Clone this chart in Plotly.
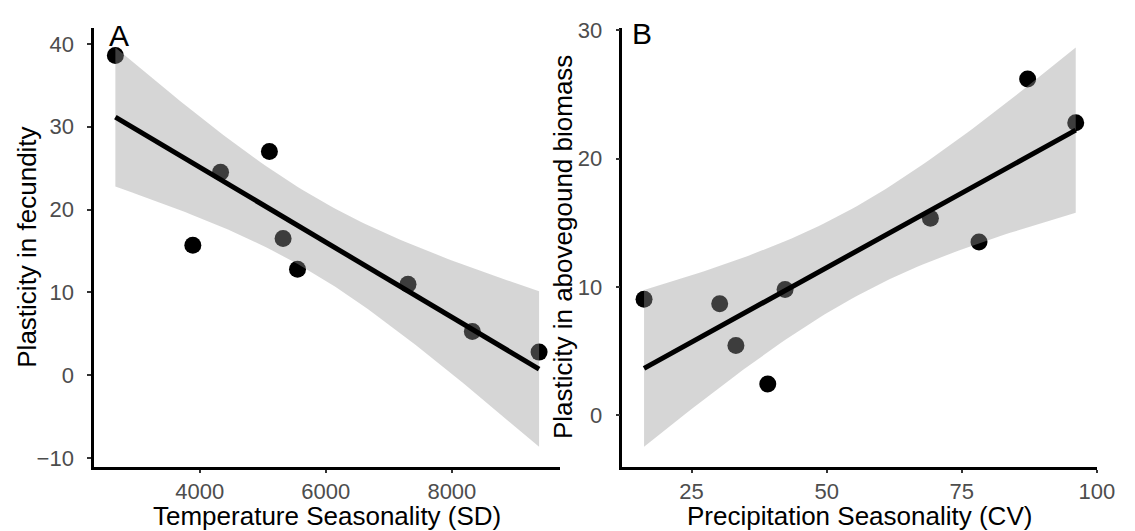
import numpy as np
import plotly.graph_objects as go

# ---------------- data ----------------
temp_sd = [2661, 3890, 4330, 5105, 5322, 5551, 7304, 8325, 9384]
fecundity = [38.6, 15.7, 24.5, 27.0, 16.5, 12.8, 11.0, 5.3, 2.8]

prec_cv = [16.2, 30.2, 33.2, 39.1, 42.3, 69.2, 78.2, 87.2, 96.1]
biomass = [9.05, 8.7, 5.45, 2.45, 9.8, 15.35, 13.5, 26.2, 22.8]

x_ticks_a = [4000, 6000, 8000]
y_ticks_a = [-10, 0, 10, 20, 30, 40]
x_ticks_b = [25, 50, 75, 100]
y_ticks_b = [0, 10, 20, 30]

T975_DF7 = 2.364624  # Student t quantile for a 95% CI with n-2 = 7 df


def lm_fit(x, y, n_grid=80):
    x = np.asarray(x, float)
    y = np.asarray(y, float)
    n = len(x)
    xb, yb = x.mean(), y.mean()
    sxx = ((x - xb) ** 2).sum()
    slope = ((x - xb) * (y - yb)).sum() / sxx
    icpt = yb - slope * xb
    resid = y - (icpt + slope * x)
    s = np.sqrt((resid ** 2).sum() / (n - 2))
    g = np.linspace(x.min(), x.max(), n_grid)
    fit = icpt + slope * g
    se = s * np.sqrt(1.0 / n + (g - xb) ** 2 / sxx)
    return g, fit, fit - T975_DF7 * se, fit + T975_DF7 * se


def expand(lo, hi, f=0.05):
    d = (hi - lo) * f
    return [lo - d, hi + d]


W, H = 1135, 531
px = lambda v: v / W
py = lambda v: (H - v) / H

AX_BOTTOM, AX_TOP = 469.3, 19.0
A_LEFT, A_RIGHT = 95.7, 569.3
B_LEFT, B_RIGHT = 632.5, 1115.0

dom_y = [py(AX_BOTTOM), py(AX_TOP)]
dom_xa = [px(A_LEFT), px(A_RIGHT)]
dom_xb = [px(B_LEFT), px(B_RIGHT)]

FONT = "Liberation Sans, Arial, Helvetica, sans-serif"
TICK_FONT = dict(family=FONT, size=22, color="#4d4d4d")

fig = go.Figure()

panels = [
    (temp_sd, fecundity, "x", "y"),
    (prec_cv, biomass, "x2", "y2"),
]
ranges = []
for xs, ys, xa, ya in panels:
    g, fit, lo, hi = lm_fit(xs, ys)
    # points first; the translucent ribbon is laid over them as in ggplot
    fig.add_trace(go.Scatter(x=xs, y=ys, mode="markers", xaxis=xa, yaxis=ya,
                             marker=dict(color="black", size=17, line=dict(width=0)),
                             showlegend=False, hoverinfo="skip"))
    fig.add_trace(go.Scatter(x=np.concatenate([g, g[::-1]]),
                             y=np.concatenate([hi, lo[::-1]]),
                             mode="lines", fill="toself",
                             fillcolor="rgba(153,153,153,0.4)",
                             line=dict(width=0), xaxis=xa, yaxis=ya,
                             showlegend=False, hoverinfo="skip"))
    fig.add_trace(go.Scatter(x=g, y=fit, mode="lines", xaxis=xa, yaxis=ya,
                             line=dict(color="black", width=5),
                             showlegend=False, hoverinfo="skip"))
    xr = expand(min(xs), max(xs))
    yr = expand(min(min(ys), lo.min()), max(max(ys), hi.max()))
    ranges.append((xr, yr))

axis_common = dict(showgrid=False, zeroline=False, showline=True,
                   linecolor="black", linewidth=2.7, ticks="outside",
                   tickwidth=2.2, tickcolor="#333333", tickfont=TICK_FONT)

fig.update_layout(
    width=W, height=H,
    margin=dict(l=0, r=0, t=0, b=0),
    paper_bgcolor="white", plot_bgcolor="white",
    font=dict(family=FONT),
    xaxis=dict(domain=dom_xa, range=ranges[0][0], tickvals=x_ticks_a,
               ticktext=[str(v) for v in x_ticks_a], anchor="y",
               ticklen=3, ticklabelstandoff=0, **axis_common),
    yaxis=dict(domain=dom_y, range=ranges[0][1], tickvals=y_ticks_a,
               ticktext=[("\u2212" + str(-v)) if v < 0 else str(v) for v in y_ticks_a],
               anchor="x", ticklen=4, ticklabelstandoff=9, **axis_common),
    xaxis2=dict(domain=dom_xb, range=ranges[1][0], tickvals=x_ticks_b,
                ticktext=[str(v) for v in x_ticks_b], anchor="y2",
                ticklen=3, ticklabelstandoff=0, **axis_common),
    yaxis2=dict(domain=dom_y, range=ranges[1][1], tickvals=y_ticks_b,
                ticktext=[str(v) for v in y_ticks_b], anchor="x2",
                ticklen=4, ticklabelstandoff=9, **axis_common),
)

TITLE_FONT = dict(family=FONT, size=26, color="black")
ann = [
    dict(text="Temperature Seasonality (SD)", x=px((A_LEFT + A_RIGHT) / 2), y=py(537),
         xanchor="center", yanchor="bottom", font=TITLE_FONT),
    dict(text="Precipitation Seasonality (CV)", x=px((B_LEFT + B_RIGHT) / 2), y=py(537),
         xanchor="center", yanchor="bottom", font=TITLE_FONT),
    dict(text="Plasticity in fecundity", x=px(28), y=py((AX_TOP + AX_BOTTOM) / 2),
         textangle=-90, xanchor="center", yanchor="middle", font=TITLE_FONT),
    dict(text="Plasticity in abovegound biomass", x=px(572), y=py((AX_TOP + AX_BOTTOM) / 2),
         textangle=-90, xanchor="center", yanchor="middle", font=TITLE_FONT),
    dict(text="A", x=px(109), y=py(8), xanchor="left", yanchor="top",
         font=dict(family=FONT, size=30, color="black")),
    dict(text="B", x=px(640), y=py(6), xanchor="left", yanchor="top",
         font=dict(family=FONT, size=30, color="black")),
]
for a in ann:
    a.update(xref="paper", yref="paper", showarrow=False)
fig.update_layout(annotations=ann)

fig.write_html("out.html")
